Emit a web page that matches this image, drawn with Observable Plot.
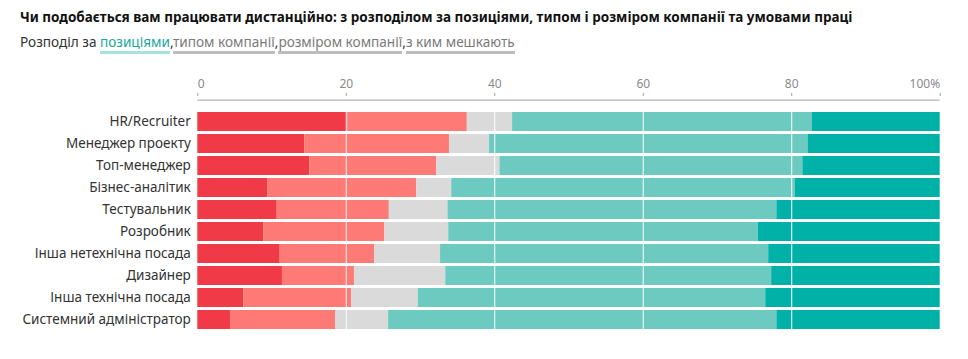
<!DOCTYPE html>
<html><head><meta charset="utf-8">
<script src="https://cdn.jsdelivr.net/npm/d3@7"></script>
<script src="https://cdn.jsdelivr.net/npm/@observablehq/plot@0.6"></script>
<style>
body{margin:0;background:#fff;font-family:"Noto Sans",sans-serif;}
#head{position:absolute;left:0;top:0;height:58px;width:968px;}
#title{position:absolute;left:20px;top:7px;font-size:13.5px;font-weight:700;color:#111;line-height:20px;white-space:nowrap;}
#sub{position:absolute;left:20px;top:32px;font-size:13.6px;color:#333;line-height:20px;white-space:nowrap;}
.lk{color:#7a7a7a;border-bottom:3.5px solid #bdbdbd;}
.lk.on{color:#1aa89c;border-bottom-color:#a6e3dd;}
#chart{position:absolute;left:0;top:58px;}
#chart svg{display:block;}
</style>
</head><body>
<div id="head">
  <div id="title">Чи подобається вам працювати дистанційно: з розподілом за позиціями, типом і розміром компанії та умовами праці</div>
  <div id="sub">Розподіл за <span class="lk on">позиціями</span>,<span class="lk">типом компанії</span>,<span class="lk">розміром компанії</span>,<span class="lk">з ким мешкають</span></div>
</div>
<div id="chart"></div>
<script>
const positions = ["HR/Recruiter","Менеджер проекту","Топ-менеджер","Бізнес-аналітик","Тестувальник","Розробник","Інша нетехнічна посада","Дизайнер","Інша технічна посада","Системний адміністратор"];
const categories = ["Зовсім ні","Скоріше ні","Важко сказати","Скоріше так","Так, дуже"];
const colors = ["#f03a47","#fe7a76","#dadada","#6dcac0","#00b1a7"];
const v1 = [20.2,14.4,15.1,9.4,10.7,8.9,11.1,11.4,6.2,4.4];
const v2 = [16.1,19.5,17.1,20.1,15.1,16.3,12.7,9.7,14.5,14.2];
const v3 = [6.1,5.4,8.5,4.7,7.9,8.6,8.9,12.3,9.0,7.1];
const v4 = [40.4,42.9,40.8,46.3,44.3,41.7,44.2,43.9,46.8,52.3];
const v5 = [17.2,17.8,18.5,19.5,22.0,24.5,23.1,22.7,23.5,22.0];
const tickValues = [0,20,40,60,80,100];
const tickLabels = ["0","20","40","60","80","100%"];

const series = [v1,v2,v3,v4,v5];
const rows = [];
positions.forEach((p,i)=>series.forEach((s,j)=>rows.push({pos:p,cat:categories[j],value:s[i]})));
const ticks = tickValues.map((v,i)=>({v,label:tickLabels[i]}));
const axisColor = "#a0a0a0";
const labelColor = "#8a8a8a";

const chart = Plot.plot({
  width: 968,
  height: 301,
  marginLeft: 197.3,
  marginRight: 28.3,
  marginTop: 37,
  marginBottom: 23.6,
  style: {fontFamily: "'Noto Sans', sans-serif", background: "#fff"},
  x: {domain: [0,100], axis: null},
  y: {domain: positions, paddingInner: 0.14, paddingOuter: 0.07, range: [47.4, 277.4], axis: null, label: null},
  color: {domain: categories, range: colors},
  marks: [
    Plot.barX(rows, {y: "pos", x: "value", fill: "cat", order: categories}),
    Plot.ruleX([20,40,60,80], {stroke: "#fff", strokeWidth: 1}),
    Plot.ruleY([positions[0]], {x1: 0, x2: 100, dy: -21.9, stroke: axisColor}),
    Plot.axisX({anchor: "top", ticks: tickValues, tickSize: 3, stroke: axisColor, tickFormat: () => "", label: null}),
    Plot.text(ticks.slice(0,1), {x: "v", text: "label", frameAnchor: "top", dy: -16, textAnchor: "start", fill: labelColor, fontSize: 12}),
    Plot.text(ticks.slice(1,5), {x: "v", text: "label", frameAnchor: "top", dy: -16, textAnchor: "middle", fill: labelColor, fontSize: 12}),
    Plot.text(ticks.slice(5), {x: "v", text: "label", frameAnchor: "top", dy: -16, textAnchor: "end", fill: labelColor, fontSize: 12}),
    Plot.axisY({tickSize: 0, tickPadding: 7, fontSize: 13.5, fill: "#333", label: null})
  ]
});
document.getElementById("chart").appendChild(chart);
</script>
</body></html>
